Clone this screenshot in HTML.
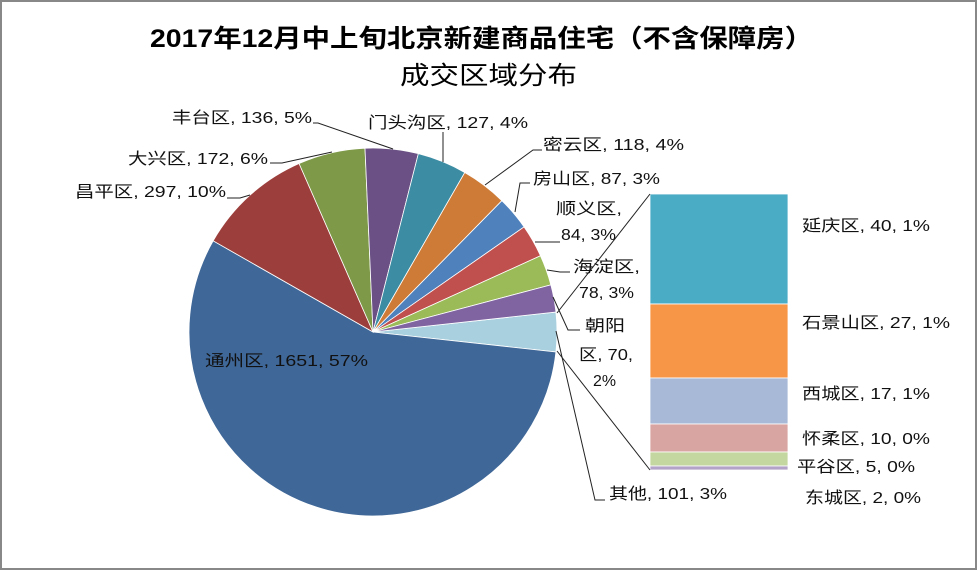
<!DOCTYPE html>
<html><head><meta charset="utf-8">
<style>
html,body{margin:0;padding:0;background:#fff;}
svg{display:block;}
text{font-family:"Liberation Sans","Noto Sans CJK SC",sans-serif;font-size:16px;fill:#111;}
.t{font-weight:bold;font-size:25px;fill:#000;}
.t2{font-size:25px;fill:#000;}
</style></head><body>
<svg id="s" width="977" height="570" viewBox="0 0 977 570" xmlns="http://www.w3.org/2000/svg">
<rect x="1" y="1" width="975" height="568" fill="#fff" stroke="#888" stroke-width="2"/>
<text class="t" x="150" y="47" textLength="663" lengthAdjust="spacingAndGlyphs">2017年12月中上旬北京新建商品住宅（不含保障房）</text>
<text class="t2" x="400" y="84" textLength="177" lengthAdjust="spacingAndGlyphs">成交区域分布</text>
<g id="pie"></g>
<g stroke="#fff" stroke-width="0.8">
<rect x="650" y="194" width="138" height="110" fill="#4BACC6"/>
<rect x="650" y="304" width="138" height="74" fill="#F79646"/>
<rect x="650" y="378" width="138" height="46" fill="#A7B9D7"/>
<rect x="650" y="424" width="138" height="28" fill="#D9A5A3"/>
<rect x="650" y="452" width="138" height="14" fill="#C4D7A0"/>
<rect x="650" y="466" width="138" height="4" fill="#B3A3C8"/>
</g>
<g stroke="#222" stroke-width="1" fill="none">
<polyline points="650,194 557,313"/>
<polyline points="650,470 557,351"/>
<polyline points="313,123 318,123 393,149"/>
<polyline points="443,132 443,162"/>
<polyline points="542,150 533,150 485,185"/>
<polyline points="530,183 520,183 515,212"/>
<polyline points="560,242 535,242"/>
<polyline points="570,272 560,272 547,270"/>
<polyline points="580,330 568,330 553,297"/>
<polyline points="605,500 595,500 556,331"/>
<polyline points="270,163 282,163 332,152"/>
<polyline points="227,198 240,198 250,195"/>
</g>
<text x="172" y="123" textLength="140" lengthAdjust="spacingAndGlyphs">丰台区, 136, 5%</text>
<text x="368" y="128" textLength="160" lengthAdjust="spacingAndGlyphs">门头沟区, 127, 4%</text>
<text x="543" y="150" textLength="141" lengthAdjust="spacingAndGlyphs">密云区, 118, 4%</text>
<text x="533" y="184" textLength="127" lengthAdjust="spacingAndGlyphs">房山区, 87, 3%</text>
<text x="556" y="214" textLength="66" lengthAdjust="spacingAndGlyphs">顺义区,</text>
<text x="561" y="240" textLength="55" lengthAdjust="spacingAndGlyphs">84, 3%</text>
<text x="573" y="272" textLength="67" lengthAdjust="spacingAndGlyphs">海淀区,</text>
<text x="579" y="298" textLength="55" lengthAdjust="spacingAndGlyphs">78, 3%</text>
<text x="585" y="331" textLength="40" lengthAdjust="spacingAndGlyphs">朝阳</text>
<text x="579" y="360" textLength="54" lengthAdjust="spacingAndGlyphs">区, 70,</text>
<text x="593" y="386" textLength="23" lengthAdjust="spacingAndGlyphs">2%</text>
<text x="609" y="499" textLength="118" lengthAdjust="spacingAndGlyphs">其他, 101, 3%</text>
<text x="205" y="366" textLength="163" lengthAdjust="spacingAndGlyphs">通州区, 1651, 57%</text>
<text x="75" y="197" textLength="151" lengthAdjust="spacingAndGlyphs">昌平区, 297, 10%</text>
<text x="128" y="164" textLength="140" lengthAdjust="spacingAndGlyphs">大兴区, 172, 6%</text>
<text x="802" y="231" textLength="128" lengthAdjust="spacingAndGlyphs">延庆区, 40, 1%</text>
<text x="802" y="328" textLength="148" lengthAdjust="spacingAndGlyphs">石景山区, 27, 1%</text>
<text x="802" y="399" textLength="128" lengthAdjust="spacingAndGlyphs">西城区, 17, 1%</text>
<text x="802" y="444" textLength="128" lengthAdjust="spacingAndGlyphs">怀柔区, 10, 0%</text>
<text x="797" y="472" textLength="118" lengthAdjust="spacingAndGlyphs">平谷区, 5, 0%</text>
<text x="805" y="503" textLength="116" lengthAdjust="spacingAndGlyphs">东城区, 2, 0%</text>
</svg>
<script>
(function(){
var cx=373,cy=332,r=184;
var d=[[101,"#A9D0DF"],[1651,"#3F6797"],[297,"#9C3F3C"],[172,"#7E9A48"],[136,"#6A5084"],[127,"#3C8CA3"],[118,"#CD7B37"],[87,"#4F81BD"],[84,"#C0504D"],[78,"#9BBB59"],[70,"#8064A2"]];
var tot=0;d.forEach(function(x){tot+=x[0];});
var a=-d[0][0]/tot*Math.PI;
var g=document.getElementById("pie"),h="";
d.forEach(function(x){
var b=a+x[0]/tot*2*Math.PI;
var x1=cx+r*Math.cos(a),y1=cy+r*Math.sin(a),x2=cx+r*Math.cos(b),y2=cy+r*Math.sin(b);
var large=(b-a)>Math.PI?1:0;
h+='<path d="M'+cx+','+cy+' L'+x1.toFixed(2)+','+y1.toFixed(2)+' A'+r+','+r+' 0 '+large+' 1 '+x2.toFixed(2)+','+y2.toFixed(2)+' Z" fill="'+x[1]+'" stroke="#fff" stroke-width="0.8"/>';
a=b;});
g.innerHTML=h;
})();
</script>
</body></html>
